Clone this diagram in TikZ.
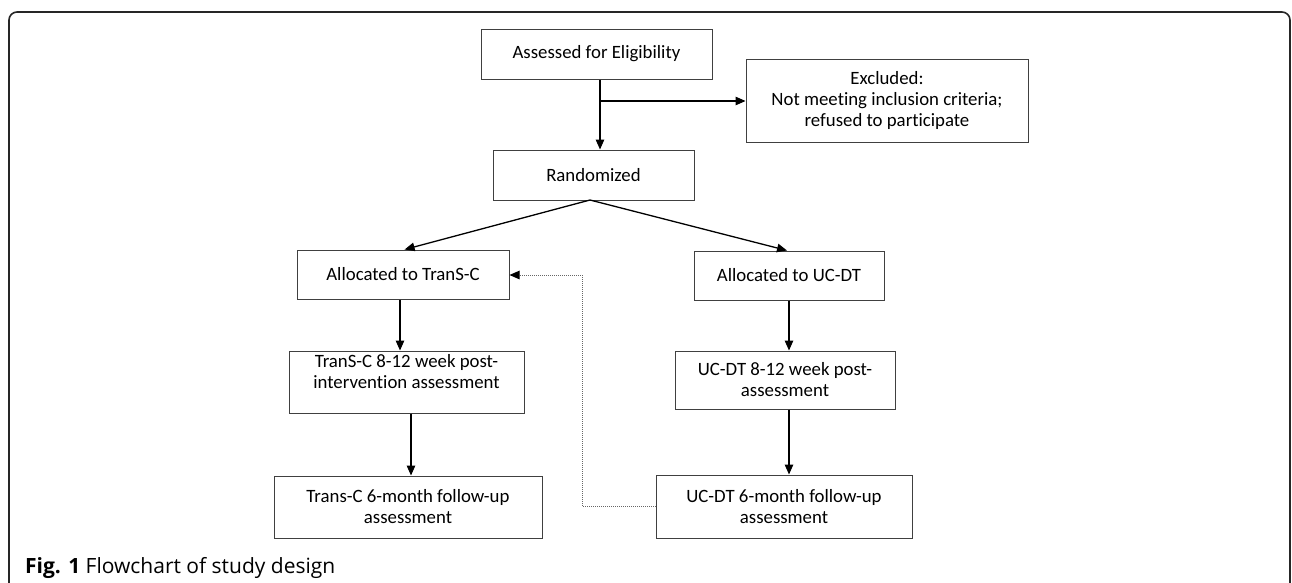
\documentclass[tikz,border=0pt]{standalone}
\usepackage{fontspec}
\setmainfont[Ligatures=NoCommon]{Carlito}
\newfontfamily\capfont{Open Sans}
\usetikzlibrary{arrows.meta}
\begin{document}
\begin{tikzpicture}[x=1pt,y=-1pt,
  box/.style={draw=black!75,line width=1pt,rectangle,inner sep=0pt,align=center,
    font=\fontsize{18.8}{21}\selectfont},
  txt/.style={inner sep=0pt,align=center,font=\fontsize{18.8}{21}\selectfont},
  arr/.style={draw=black,line width=1.3pt,-{Triangle[length=10pt,width=8.5pt]}},
  dotarr/.style={draw=black!60,line width=1pt,dash pattern=on 1pt off 1pt,-{Triangle[length=10pt,width=8.5pt,fill=black,color=black]}},
  frame/.style={draw=black!85,line width=1.6pt,rounded corners=8pt}]
\useasboundingbox (0,0) rectangle (1292,582);
\draw[frame] (9,590) -- (9,12) -- (1290,12) -- (1290,590);
% nodes
\node[box,minimum width=231pt,minimum height=50pt] (ass) at (596.5,54) {Assessed for Eligibility};
\node[box,minimum width=282pt,minimum height=83pt] (exc) at (887,100.5) {Excluded:\\Not meeting inclusion criteria;\\refused to participate};
\node[box,minimum width=201pt,minimum height=50pt] (ran) at (593.5,175) {Randomized};
\node[box,minimum width=212pt,minimum height=49pt] (alt) at (403,274.5) {Allocated to TranS-C};
\node[box,minimum width=190pt,minimum height=49pt] (alu) at (789,275.5) {Allocated to UC-DT};
\node[box,minimum width=235pt,minimum height=62pt] (t8) at (406.5,382) {};
\node[txt,anchor=north] (t8txt) at ([yshift=-4pt]t8.north) {TranS-C 8-12 week post-\\intervention assessment};
\node[box,minimum width=220pt,minimum height=58pt] (u8) at (785,380) {UC-DT 8-12 week post-\\assessment};
\node[box,minimum width=268pt,minimum height=62pt] (t6) at (408,507) {Trans-C 6-month follow-up\\assessment};
\node[box,minimum width=256pt,minimum height=63pt] (u6) at (784,506.5) {UC-DT 6-month follow-up\\assessment};
\coordinate (br) at (600,101);
\coordinate (rs) at (590,200);
\coordinate (d1) at (582,506);
\coordinate (d2) at (582,275);
% connectors
\draw[arr] (ass.south -| br) -- (ran.north -| br);
\draw[arr] (br) -- (br -| exc.west);
\draw[arr] (rs) -- ([xshift=1.6pt]alt.north);
\draw[arr] (rs) -- ([xshift=-2pt]alu.north);
\draw[arr] ([xshift=-3pt]alt.south) -- ([xshift=-3pt]alt.south |- t8.north);
\draw[arr] ([xshift=4.5pt]t8.south) -- ([xshift=4.5pt]t8.south |- t6.north);
\draw[arr] (alu.south) -- (alu.south |- u8.north);
\draw[arr] (alu.south |- u8.south) -- (alu.south |- u6.north);
\draw[dotarr] (u6.west |- d1) -- (d1) -- (d2) -- (d2 -| alt.east);
% caption
\node[anchor=base west,inner sep=0pt,font=\capfont\fontsize{21}{24}\selectfont] (cap) at (25,573) {\textbf{Fig. 1} Flowchart of study design};
\end{tikzpicture}
\end{document}
